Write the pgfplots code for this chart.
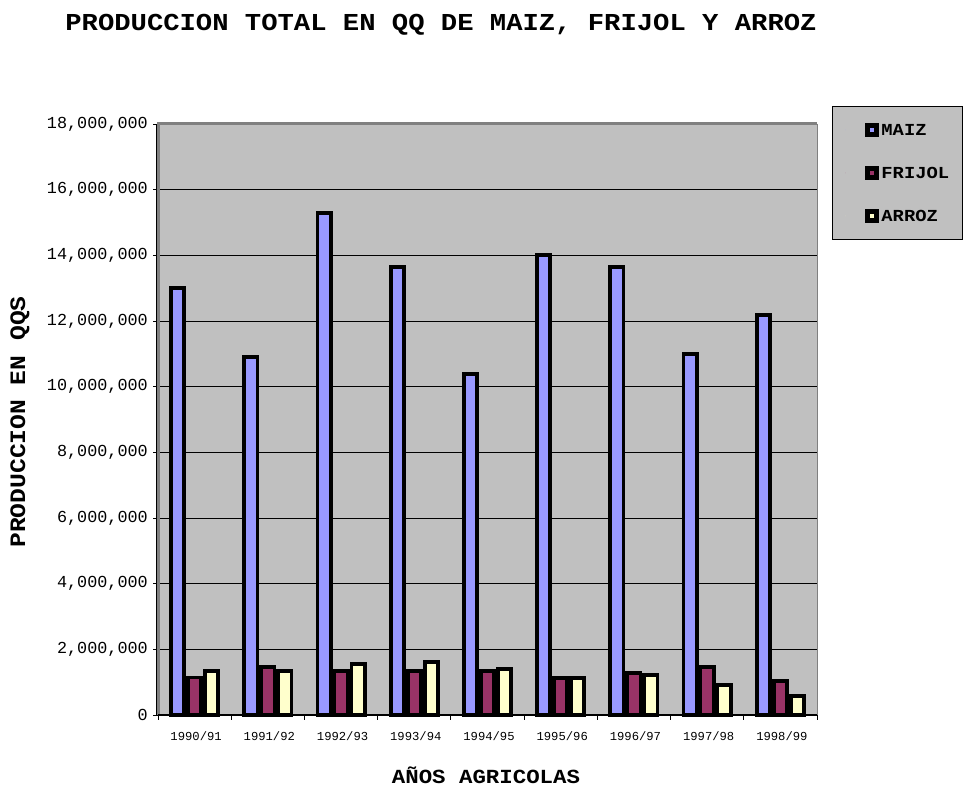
\documentclass[border=0pt]{standalone}
\usepackage{fontspec}
\usepackage{pgfplots}
\usepackage{pgfplotstable}
\pgfplotsset{compat=1.18}
\setmainfont{Liberation Mono}
\newfontfamily\bmono{Liberation Mono}
\newfontfamily\bmonowide[FakeStretch=1.12]{Liberation Mono}
\definecolor{maiz}{HTML}{9999FF}
\definecolor{frijol}{HTML}{993366}
\definecolor{arroz}{HTML}{FFFFCC}
\definecolor{plotgray}{HTML}{C0C0C0}
\definecolor{framegray}{HTML}{808080}

\pgfplotstableread{
x maiz frijol arroz
0 13000000 1140000 1340000
1 10900000 1460000 1340000
2 15290000 1340000 1550000
3 13640000 1340000 1620000
4 10390000 1340000 1400000
5 14010000 1120000 1120000
6 13640000 1270000 1220000
7 11000000 1460000 910000
8 12180000 1040000 570000
}\datatable

\begin{document}
\begin{tikzpicture}[x=1bp,y=1bp]
\path[use as bounding box] (0,0) rectangle (964,788);
\begin{axis}[
  at={(158bp,73bp)}, anchor=south west,
  width=659bp, height=591bp, scale only axis,
  clip=false,
  ybar=3.8bp, bar width=13.2bp,
  xmin=-0.5, xmax=8.5, ymin=0, ymax=18000000,
  xtick={0,...,8},
  xticklabels={1990/91,1991/92,1992/93,1993/94,1994/95,1995/96,1996/97,1997/98,1998/99},
  xtick pos=bottom, ytick pos=left,
  major x tick style={draw=none},
  minor xtick={-0.5,0.5,...,8.5},
  minor x tick style={black, line width=0.8bp},
  ytick={0,2000000,...,18000000},
  y tick style={black, line width=0.8bp},
  tick align=outside,
  major tick length=5bp, minor tick length=5bp,
  scaled y ticks=false,
  yticklabel style={/pgf/number format/fixed, /pgf/number format/precision=0,
     /pgf/number format/1000 sep={,}, /pgf/number format/assume math mode=true,
     font=\fontsize{16.8bp}{18bp}\selectfont, anchor=east, inner sep=0pt, xshift=-5bp},
  xticklabel style={font=\fontsize{12.2bp}{14bp}\selectfont, anchor=north, inner sep=0pt, yshift=-11bp, xshift=1.5bp},
  ymajorgrids, grid style={black, line width=0.7bp},
  axis background/.style={fill=plotgray},
  axis line style={draw=none},
  legend image code/.code={\path[draw=none] (-22bp,0bp) -- (-22bp,1bp); \draw[#1, line width=5bp] (0bp,-4.5bp) rectangle (9.5bp,5bp);},
  legend style={at={(1.0228,1.0305)}, anchor=north west, fill=plotgray, draw=black, line width=0.8bp,
     font=\bmonowide\bfseries\fontsize{16.8bp}{18bp}\selectfont,
     nodes={inner sep=0pt, text height=10bp, text depth=0pt},
     row sep=28.5bp, column sep=2bp, inner xsep=13bp, inner ysep=16.5bp},
  legend cell align=left,
  every axis plot/.append style={draw=black, line width=3.8bp},
]
\addplot[fill=maiz] table[x=x, y=maiz] {\datatable};
\addplot[fill=frijol] table[x=x, y=frijol] {\datatable};
\addplot[fill=arroz] table[x=x, y=arroz] {\datatable};
\legend{MAIZ,FRIJOL,ARROZ}
\draw[framegray, line width=3bp] (rel axis cs:0,0) -- (rel axis cs:0,1) -- (rel axis cs:1,1);
\draw[framegray, line width=1bp] (rel axis cs:1,1) -- (rel axis cs:1,0);
\draw[black, line width=1bp] (rel axis cs:0,0) -- (rel axis cs:1,0);
\draw[black, line width=0.8bp] ([xshift=-1.5bp]rel axis cs:0,0) -- ([xshift=-1.5bp]rel axis cs:0,1);
\end{axis}
\node[font=\bmonowide\bfseries\fontsize{24.3bp}{28bp}\selectfont, inner sep=0pt] at (441,763) {PRODUCCION TOTAL EN QQ DE MAIZ, FRIJOL Y ARROZ};
\node[font=\bmonowide\bfseries\fontsize{20bp}{24bp}\selectfont, inner sep=0pt] at (486,13) {AÑOS AGRICOLAS};
\node[font=\bmonowide\bfseries\fontsize{22bp}{26bp}\selectfont, inner sep=0pt, rotate=90] at (20,366) {PRODUCCION EN QQS};
\end{tikzpicture}
\end{document}
